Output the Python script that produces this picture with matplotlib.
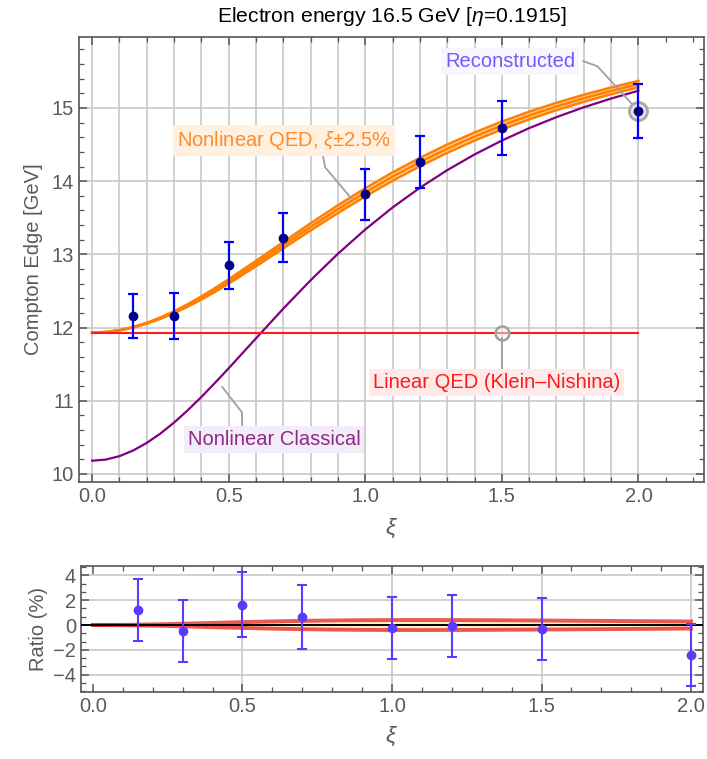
import matplotlib
matplotlib.use('Agg')
import matplotlib.pyplot as plt
import numpy as np
from matplotlib.ticker import MultipleLocator, FormatStrFormatter

plt.rcParams['font.family'] = ['Liberation Sans', 'DejaVu Sans']
plt.rcParams['mathtext.fontset'] = 'custom'
plt.rcParams['mathtext.it'] = 'Liberation Sans:italic'
plt.rcParams['mathtext.rm'] = 'Liberation Sans'
plt.rcParams['axes.unicode_minus'] = True

# ---------------- data ----------------
xi_curve = [0.0, 0.05, 0.1, 0.15, 0.2, 0.25, 0.3, 0.35, 0.4, 0.45, 0.5, 0.6, 0.7, 0.8, 0.9, 1.0,
            1.1, 1.2, 1.3, 1.4, 1.5, 1.6, 1.7, 1.8, 1.9, 2.0]
qed_center = [11.931, 11.939, 11.963, 12.004, 12.059, 12.128, 12.210, 12.302, 12.404, 12.514, 12.630,
              12.874, 13.126, 13.376, 13.618, 13.848,
              14.063, 14.261, 14.444, 14.610, 14.761, 14.897, 15.021, 15.133, 15.234, 15.326]
qed_upper = [11.931, 11.939, 11.965, 12.008, 12.065, 12.138, 12.223, 12.319, 12.425, 12.540, 12.660,
             12.911, 13.170, 13.425, 13.671, 13.904,
             14.120, 14.318, 14.501, 14.665, 14.815, 14.949, 15.071, 15.181, 15.280, 15.370]
qed_lower = [11.931, 11.939, 11.961, 12.000, 12.053, 12.119, 12.197, 12.285, 12.383, 12.488, 12.600,
             12.837, 13.082, 13.327, 13.565, 13.792,
             14.006, 14.204, 14.387, 14.555, 14.707, 14.845, 14.971, 15.085, 15.188, 15.282]
classical = [10.181, 10.196, 10.243, 10.320, 10.424, 10.552, 10.702, 10.870, 11.052, 11.245, 11.444,
             11.853, 12.259, 12.647, 13.009, 13.340,
             13.641, 13.910, 14.151, 14.365, 14.555, 14.725, 14.875, 15.010, 15.129, 15.236]
linear_qed = 11.93
linear_xi = [0.0, 2.0]

xi_data = [0.15, 0.3, 0.5, 0.7, 1.0, 1.2, 1.5, 2.0]
edge_data = [12.16, 12.16, 12.85, 13.23, 13.82, 14.26, 14.73, 14.96]
edge_err = [0.30, 0.31, 0.32, 0.33, 0.345, 0.357, 0.368, 0.374]

ratio_data = [1.25, -0.45, 1.65, 0.65, -0.2, -0.05, -0.3, -2.4]
ratio_err = [2.5, 2.5, 2.6, 2.55, 2.5, 2.5, 2.5, 2.5]
band_pct_upper = [0.0, 0.003, 0.013, 0.030, 0.051, 0.078, 0.107, 0.139, 0.171, 0.204, 0.234,
                  0.291, 0.336, 0.369, 0.391, 0.402,
                  0.405, 0.400, 0.392, 0.379, 0.365, 0.349, 0.333, 0.317, 0.301, 0.284]
band_pct_lower = [-v for v in band_pct_upper]

title = r"Electron energy 16.5 GeV [$\eta$=0.1915]"

# ---------------- figure ----------------
W, H = 707, 759
fig = plt.figure(figsize=(W / 100, H / 100), dpi=100)
ax = fig.add_axes([79 / W, 1 - 482 / H, (704 - 79) / W, (482 - 37) / H])
axr = fig.add_axes([81 / W, 1 - 692 / H, (703 - 81) / W, (692 - 566) / H])

FS = 14.5
tick_col = '#5a5a5a'
frame_col = '#555555'
grid_col = '#c8c8c8'

# ---- top panel ----
ax.set_xlim(-0.048, 2.24)
ax.set_ylim(9.89, 15.97)
for g in np.arange(0, 2.001, 0.1):
    ax.axvline(g, color=grid_col, lw=1.2, zorder=0)
for g in range(10, 16):
    ax.axhline(g, color=grid_col, lw=1.2, zorder=0)

ax.fill_between(xi_curve, qed_lower, qed_upper, color='#ffd09a', lw=0, zorder=2)
for series in (qed_lower, qed_center, qed_upper):
    ax.plot(xi_curve, series, color='#ff8000', lw=1.8, zorder=3)
ax.plot(xi_curve, classical, color='#800080', lw=1.6, zorder=3)
ax.plot(linear_xi, [linear_qed, linear_qed], color='#ff1a1a', lw=1.5, zorder=3)

# callout rings
ax.plot([xi_data[-1]], [edge_data[-1]], 'o', ms=13, mfc='#e4e4e4', mec='#a8a8a8', mew=2.0, zorder=4)
ax.plot([1.5], [linear_qed], 'o', ms=10, mfc=(0.95, 0.95, 0.95, 0.5), mec='#a0a0a0', mew=1.8, zorder=4)

ax.errorbar(xi_data, edge_data, yerr=edge_err, fmt='o', color='#000088', ms=6,
            ecolor='#0000ff', elinewidth=1.6, capsize=3.5, capthick=1.6, zorder=5)

# labels with leader lines
lead = dict(color='#a0a0a0', lw=1.3, zorder=4)
ax.plot([0.846, 0.853, 0.95], [14.33, 14.19, 13.76], **lead)
ax.text(0.31, 14.56, r"Nonlinear QED, $\xi$±2.5%", color='#ff8c2a', fontsize=FS, va='center', ha='left',
        bbox=dict(boxstyle='square,pad=0.2', fc='#fff0e0', ec='none'), zorder=6)

ax.plot([1.798, 1.85, 1.975], [15.64, 15.57, 15.06], **lead)
ax.text(1.293, 15.63, "Reconstructed", color='#7a55ff', fontsize=FS, va='center', ha='left',
        bbox=dict(boxstyle='square,pad=0.2', fc='#f8f7ff', ec='none'), zorder=6)

ax.plot([1.5, 1.5], [11.86, 11.42], **lead)
ax.text(1.029, 11.25, "Linear QED (Klein–Nishina)", color='#ff1a1a', fontsize=FS, va='center', ha='left',
        bbox=dict(boxstyle='square,pad=0.2', fc='#ffe9e9', ec='none'), zorder=6)

ax.plot([0.476, 0.549, 0.549], [11.19, 10.84, 10.67], **lead)
ax.text(0.35, 10.47, "Nonlinear Classical", color='#8b2a8b', fontsize=FS, va='center', ha='left',
        bbox=dict(boxstyle='square,pad=0.2', fc='#f4ecf6', ec='none'), zorder=6)

ax.xaxis.set_major_locator(MultipleLocator(0.5))
ax.xaxis.set_minor_locator(MultipleLocator(0.1))
ax.yaxis.set_major_locator(MultipleLocator(1))
ax.yaxis.set_minor_locator(MultipleLocator(0.2))
ax.set_xlabel(r"$\xi$", fontsize=FS + 2, color=tick_col, labelpad=8)
ax.set_ylabel("Compton Edge [GeV]", fontsize=FS, color=tick_col, labelpad=6)

# ---- ratio panel ----
axr.set_xlim(-0.04, 2.04)
axr.set_ylim(-5.4, 4.76)
for g in [0.5, 1.0, 1.5, 2.0]:
    axr.axvline(g, color=grid_col, lw=1.2, zorder=0)
for g in [-4, -2, 2, 4]:
    axr.axhline(g, color=grid_col, lw=1.2, zorder=0)
axr.fill_between(xi_curve, band_pct_lower, band_pct_upper, color='#fff0cc', lw=0, zorder=1)
axr.plot(xi_curve, band_pct_upper, color='#e8231a', lw=2.8, alpha=0.75, zorder=2)
axr.plot(xi_curve, band_pct_lower, color='#e8231a', lw=2.8, alpha=0.75, zorder=2)
axr.axhline(0, color='black', lw=1.4, zorder=3)
axr.errorbar(xi_data, ratio_data, yerr=ratio_err, fmt='o', color='#5a3cff', ms=6,
             ecolor='#5a3cff', elinewidth=1.5, capsize=3.5, capthick=1.5, zorder=5)
axr.xaxis.set_major_locator(MultipleLocator(0.5))
axr.xaxis.set_minor_locator(MultipleLocator(0.1))
axr.yaxis.set_major_locator(MultipleLocator(2))
axr.yaxis.set_minor_locator(MultipleLocator(2 / 3))
axr.set_xlabel(r"$\xi$", fontsize=FS + 2, color=tick_col, labelpad=6)
axr.set_ylabel("Ratio (%)", fontsize=FS, color=tick_col, labelpad=4)

for a in (ax, axr):
    for s in a.spines.values():
        s.set_color(frame_col)
        s.set_linewidth(1.2)
    a.tick_params(which='both', direction='in', top=True, right=True, color=frame_col,
                  labelcolor=tick_col, labelsize=FS)
    a.tick_params(which='major', length=6, width=1.1)
    a.tick_params(which='minor', length=3.5, width=0.9)
    a.xaxis.set_major_formatter(FormatStrFormatter('%.1f'))
ax.yaxis.set_major_formatter(FormatStrFormatter('%d'))

fig.text(392 / W, 1 - 17 / H, title, ha='center', va='center', fontsize=15.2, color='black')

fig.savefig('out.png', dpi=100)
